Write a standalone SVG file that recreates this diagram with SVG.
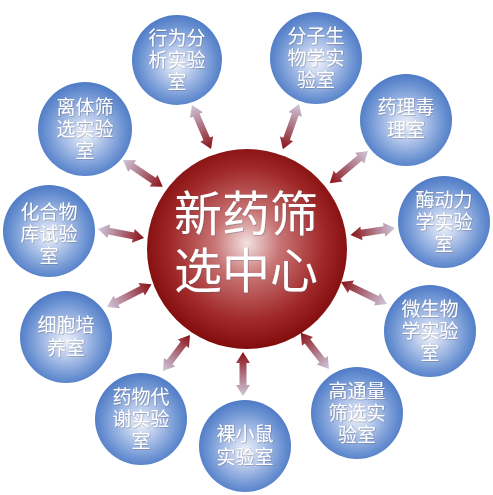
<svg xmlns="http://www.w3.org/2000/svg" width="493" height="495" viewBox="0 0 493 495">
<defs>
<radialGradient id="bg" cx="0.5" cy="0.52" r="0.55" fx="0.5" fy="0.55">
<stop offset="0" stop-color="#eef2fa"/>
<stop offset="0.35" stop-color="#b3c6ea"/>
<stop offset="0.75" stop-color="#6b92d2"/>
<stop offset="1" stop-color="#4774c2"/>
</radialGradient>
<radialGradient id="rg" cx="0.5" cy="0.48" r="0.55" fx="0.5" fy="0.47">
<stop offset="0" stop-color="#f2e2e2"/>
<stop offset="0.3" stop-color="#c87474"/>
<stop offset="0.7" stop-color="#a02828"/>
<stop offset="1" stop-color="#7c0606"/>
</radialGradient>
<linearGradient id="ag" x1="0" y1="0" x2="1" y2="0">
<stop offset="0" stop-color="#cfc8dc"/>
<stop offset="0.45" stop-color="#b07888"/>
<stop offset="1" stop-color="#8a1016"/>
</linearGradient>
<filter id="sh" x="-10%" y="-10%" width="120%" height="120%">
<feDropShadow dx="0.6" dy="0.6" stdDeviation="0.6" flood-color="#556" flood-opacity="0.55"/>
</filter>
</defs>
<style>
.arrow{fill:url(#ag)}
.node circle{fill:url(#bg)}
.node text{font-family:"Noto Sans CJK SC","Noto Sans",sans-serif;font-size:19px;fill:#ffffff;text-anchor:middle;filter:url(#sh)}
#center circle{fill:url(#rg)}
#center text{font-family:"Noto Sans CJK SC","Noto Sans",sans-serif;font-size:48px;fill:#ffffff;text-anchor:middle;filter:url(#sh)}
</style>
<rect width="493" height="495" fill="#ffffff"/>
<g id="connectors">
<polygon class="arrow" transform="translate(192,105) rotate(66.6)" points="0,0 11,-7 11,-3.5 37,-3.5 37,-7 48,0 37,7 37,3.5 11,3.5 11,7"/>
<polygon class="arrow" transform="translate(299,104) rotate(109.6)" points="0,0 11,-7 11,-3.5 37,-3.5 37,-7 48,0 37,7 37,3.5 11,3.5 11,7"/>
<polygon class="arrow" transform="translate(368,151) rotate(139.9)" points="0,0 11,-7 11,-3.5 39,-3.5 39,-7 50,0 39,7 39,3.5 11,3.5 11,7"/>
<polygon class="arrow" transform="translate(395,228) rotate(171)" points="0,0 11,-7 11,-3.5 34,-3.5 34,-7 45,0 34,7 34,3.5 11,3.5 11,7"/>
<polygon class="arrow" transform="translate(123,160) rotate(34)" points="0,0 11,-7 11,-3.5 37,-3.5 37,-7 48,0 37,7 37,3.5 11,3.5 11,7"/>
<polygon class="arrow" transform="translate(98,229) rotate(11.1)" points="0,0 11,-7 11,-3.5 36,-3.5 36,-7 47,0 36,7 36,3.5 11,3.5 11,7"/>
<polygon class="arrow" transform="translate(107,307) rotate(-27.1)" points="0,0 11,-7 11,-3.5 39,-3.5 39,-7 50,0 39,7 39,3.5 11,3.5 11,7"/>
<polygon class="arrow" transform="translate(163,371) rotate(-53.1)" points="0,0 11,-7 11,-3.5 34,-3.5 34,-7 45,0 34,7 34,3.5 11,3.5 11,7"/>
<polygon class="arrow" transform="translate(243,396) rotate(-90)" points="0,0 11,-7 11,-3.5 33,-3.5 33,-7 44,0 33,7 33,3.5 11,3.5 11,7"/>
<polygon class="arrow" transform="translate(329,369) rotate(-127.9)" points="0,0 11,-7 11,-3.5 35,-3.5 35,-7 46,0 35,7 35,3.5 11,3.5 11,7"/>
<polygon class="arrow" transform="translate(387,304) rotate(-154.4)" points="0,0 11,-7 11,-3.5 40,-3.5 40,-7 51,0 40,7 40,3.5 11,3.5 11,7"/>
</g>
<g id="center">
<circle cx="247" cy="249" r="100"/>
<text x="246" y="231">新药筛<tspan x="246" dy="57">选中心</tspan></text>
</g>
<g id="n1" class="node"><circle cx="177" cy="60" r="45"/><text x="177" y="45">行为分<tspan x="177" dy="22">析实验</tspan><tspan x="177" dy="22">室</tspan></text></g>
<g id="n2" class="node"><circle cx="316" cy="58" r="46"/><text x="316" y="43">分子生<tspan x="316" dy="22">物学实</tspan><tspan x="316" dy="22">验室</tspan></text></g>
<g id="n3" class="node"><circle cx="406" cy="120" r="46"/><text x="406" y="114">药理毒<tspan x="406" dy="23">理室</tspan></text></g>
<g id="n4" class="node"><circle cx="444" cy="222" r="46"/><text x="444" y="207">酶动力<tspan x="444" dy="22">学实验</tspan><tspan x="444" dy="22">室</tspan></text></g>
<g id="n5" class="node"><circle cx="85" cy="129" r="47"/><text x="85" y="114">离体筛<tspan x="85" dy="22">选实验</tspan><tspan x="85" dy="22">室</tspan></text></g>
<g id="n6" class="node"><circle cx="49" cy="231" r="46"/><text x="49" y="219">化合物<tspan x="49" dy="22">库试验</tspan><tspan x="49" dy="22">室</tspan></text></g>
<g id="n7" class="node"><circle cx="66" cy="337" r="46"/><text x="66" y="332">细胞培<tspan x="66" dy="23">养室</tspan></text></g>
<g id="n8" class="node"><circle cx="141" cy="419" r="46"/><text x="141" y="404">药物代<tspan x="141" dy="22">谢实验</tspan><tspan x="141" dy="22">室</tspan></text></g>
<g id="n9" class="node"><circle cx="245" cy="446" r="46"/><text x="245" y="441">裸小鼠<tspan x="245" dy="23">实验室</tspan></text></g>
<g id="n10" class="node"><circle cx="357" cy="413" r="46"/><text x="357" y="398">高通量<tspan x="357" dy="22">筛选实</tspan><tspan x="357" dy="22">验室</tspan></text></g>
<g id="n11" class="node"><circle cx="430" cy="331" r="46"/><text x="430" y="316">微生物<tspan x="430" dy="22">学实验</tspan><tspan x="430" dy="22">室</tspan></text></g>
</svg>
